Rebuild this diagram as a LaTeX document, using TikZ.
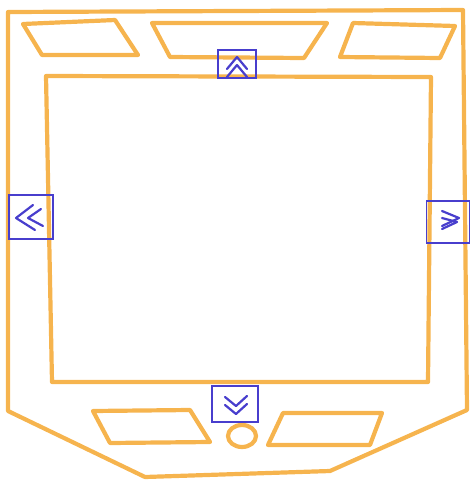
\documentclass[tikz,border=0pt]{standalone}
\definecolor{sketchorange}{RGB}{246, 180, 78}
\definecolor{penblue}{RGB}{72, 62, 205}
\usepackage{tikz}
\usetikzlibrary{positioning}

\begin{document}
\begin{tikzpicture}[x=1pt, y=-1pt,
    frame/.style={draw=sketchorange, line width=4.2pt, line join=round, line cap=round},
    btn/.style={draw=penblue, line width=1.4pt, inner sep=0pt},
    chev/.style={draw=penblue, line width=2.2pt, line cap=round, line join=round}]
            \useasboundingbox (0,0) rectangle (471,483);
            % housing
            \draw[frame] (8,12) -- (463,10) -- (467,410) -- (330,471) -- (145,477) -- (8,411) -- cycle;
            % screen
            \draw[frame] (46,76) -- (431,77) -- (428,382) -- (52,382) -- cycle;
            % top keys
            \draw[frame] (23,24) -- (115,20) -- (138,55) -- (42,55) -- cycle;
            \draw[frame] (152,23) -- (327,23) -- (304,58) -- (170,57) -- cycle;
            \draw[frame] (353,23) -- (455,26) -- (440,58) -- (340,57) -- cycle;
            % bottom keys
            \draw[frame] (93,411) -- (190,410) -- (210,442) -- (110,443) -- cycle;
            \draw[frame] (283,413) -- (382,413) -- (370,445) -- (268,445) -- cycle;
            \draw[frame] (242,436) ellipse (14pt and 11pt);
            % arrow buttons
            \node[btn, minimum width=38pt, minimum height=28pt] (up) at (237,64) {};
            \node[btn, minimum width=44pt, minimum height=44pt] (left) at (31,217) {};
            \node[btn, minimum width=43pt, minimum height=42pt] (right) at (448,222) {};
            \node[btn, minimum width=46pt, minimum height=36pt] (down) at (235,404) {};
            \foreach \d in {0,8} {
                \draw[chev] ([shift={(-10,5+\d)}]up.center) -- ([shift={(0,-7+\d)}]up.center) -- ([shift={(10,5+\d)}]up.center);
                \draw[chev] ([shift={(-10,-7+\d)}]down.center) -- ([shift={(1,2+\d)}]down.center) -- ([shift={(12,-8+\d)}]down.center);
                \draw[chev] ([shift={(2+\d,-12+\d/2)}]left.center) -- ([shift={(-15+\d*1.5,1)}]left.center) -- ([shift={(4+\d,13-\d/2)}]left.center);
            }
            \draw[chev] ([shift={(-6,-11)}]right.center) -- ([shift={(11,-4)}]right.center) -- ([shift={(-6,4)}]right.center);
            \draw[chev] ([shift={(-6,-4)}]right.center) -- ([shift={(9,0)}]right.center) -- ([shift={(-6,7)}]right.center);
        \end{tikzpicture}
\end{document}
